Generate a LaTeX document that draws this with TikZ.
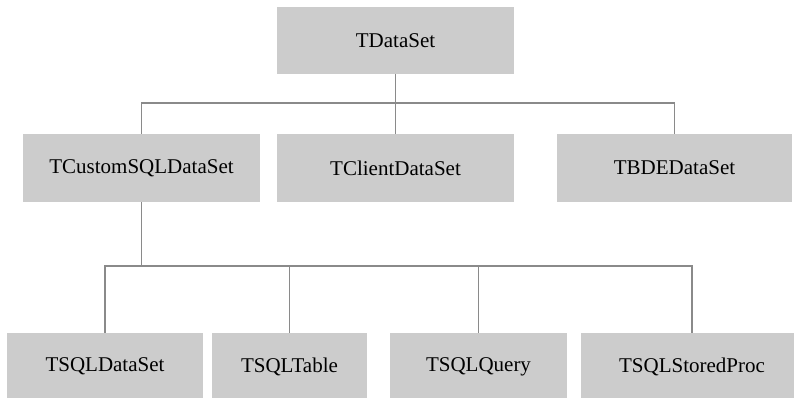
\documentclass[tikz,border=0pt]{standalone}
\usepackage{fontspec}
\setmainfont{Liberation Serif}
\definecolor{boxgray}{HTML}{CCCCCC}
\definecolor{linegray}{HTML}{8A8A8A}
\begin{document}
\begin{tikzpicture}[x=1pt,y=-1pt,
  cls/.style={rectangle,fill=boxgray,inner sep=0pt,minimum height=67pt,font=\fontsize{21}{24}\selectfont,text=black},
  conn/.style={draw=linegray,line width=1.3pt}]
\fill[white] (0,0) rectangle (794,398);
\useasboundingbox (0,0) rectangle (794,398);
\node[cls,minimum width=237pt] (top) at (395.5,40.5) {TDataSet};
\node[cls,minimum width=237pt,minimum height=68pt] (cs) at (141.5,168) {TCustomSQLDataSet};
\node[cls,minimum width=237pt,minimum height=68pt] (cl) at (395.5,168) {TClientDataSet};
\node[cls,minimum width=235pt,minimum height=68pt] (bde) at (674.5,168) {TBDEDataSet};
\node[cls,minimum width=196pt] (b1) at (105,366.5) {TSQLDataSet};
\node[cls,minimum width=155pt] (b2) at (289.5,366.5) {TSQLTable};
\node[cls,minimum width=177pt] (b3) at (478.5,366.5) {TSQLQuery};
\node[cls,minimum width=222pt] (b4) at (692,366.5) {TSQLStoredProc};
\coordinate (j1) at (395.5,103);
\coordinate (j2) at (141.5,266);
\draw[conn] (top.south) -- (cl.north);
\draw[conn] (cs.north) |- (j1) -| (bde.north);
\draw[conn] (cs.south) -- (j2);
\draw[conn] (b1.north) |- (j2) -| (b4.north);
\draw[conn] (b2.north) -- (b2.north |- j2);
\draw[conn] (b3.north) -- (b3.north |- j2);
\end{tikzpicture}
\end{document}
